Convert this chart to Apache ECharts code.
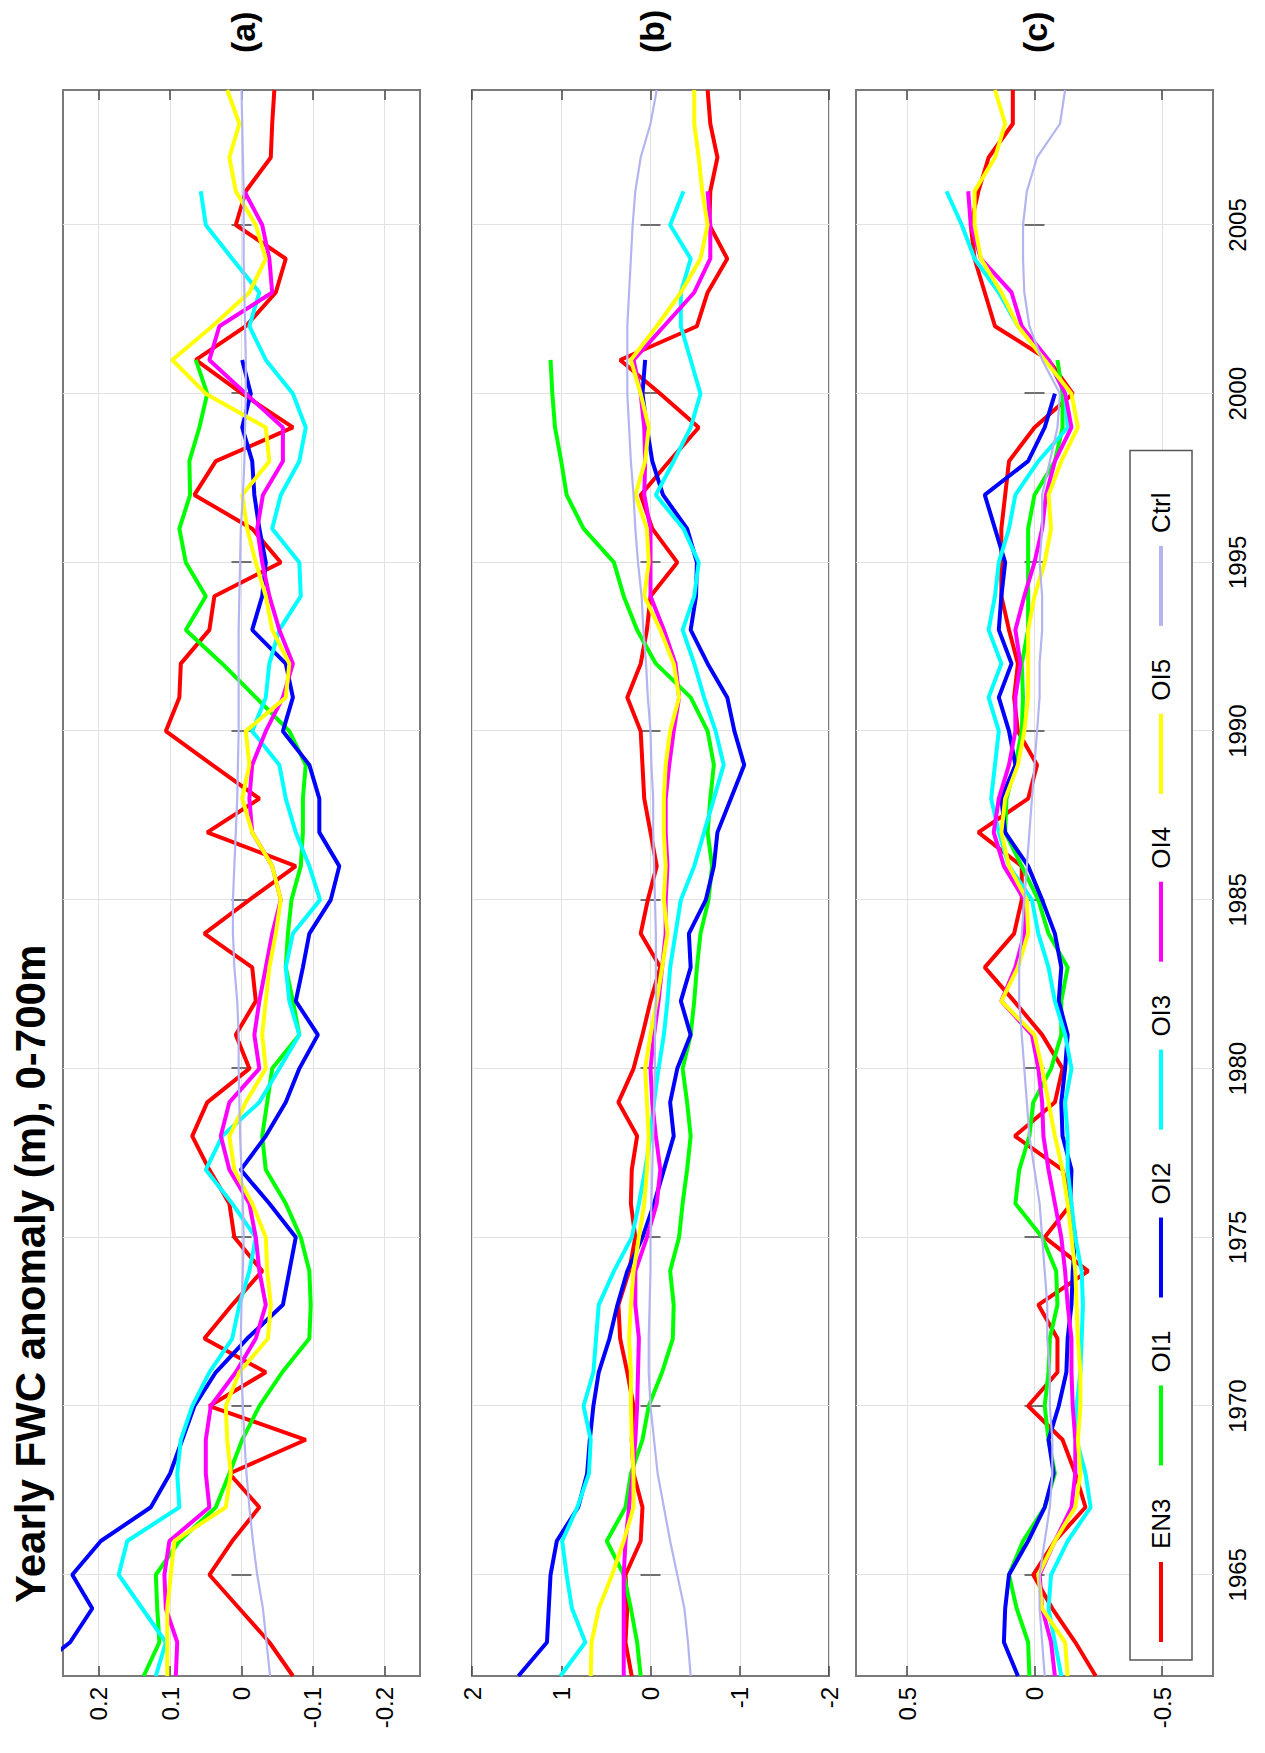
<!DOCTYPE html>
<html><head><meta charset="utf-8">
<script src="https://cdn.jsdelivr.net/npm/echarts@6/dist/echarts.min.js"></script>
<style>
html,body{margin:0;padding:0;background:#fff;width:1265px;height:1753px;overflow:hidden;}
#chart{position:absolute;left:0;top:0;width:1753px;height:1265px;transform-origin:0 0;transform:translate(0px,1753px) rotate(-90deg);}
</style></head><body><div id="chart"></div>
<script>
const years = [1962,1963,1964,1965,1966,1967,1968,1969,1970,1971,1972,1973,1974,1975,1976,1977,1978,1979,1980,1981,1982,1983,1984,1985,1986,1987,1988,1989,1990,1991,1992,1993,1994,1995,1996,1997,1998,1999,2000,2001,2002,2003,2004,2005,2006,2007,2008,2009];
const yearTicks = [1965,1970,1975,1980,1985,1990,1995,2000,2005];
const ticksA = [-0.2,-0.1,0,0.1,0.2];
const ticksB = [-2,-1,0,1,2];
const ticksC = [-0.5,0,0.5];
const names = ['EN3','OI1','OI2','OI3','OI4','OI5','Ctrl'];
const colors = ['#ff0000','#00ff00','#0000ff','#00ffff','#ff00ff','#ffff00','#b4b4f0'];

// Panel (a)
const a_EN3 = [-0.072,-0.039,0.003,0.045,0.013,-0.025,0.017,-0.090,0.045,-0.034,0.052,0.013,-0.029,0.010,0.017,0.045,0.069,0.048,-0.011,0.008,-0.020,-0.015,0.052,-0.011,-0.076,0.048,-0.025,0.041,0.106,0.087,0.085,0.045,0.038,-0.055,-0.015,0.066,0.036,-0.072,-0.001,0.064,-0.006,-0.048,-0.062,0.008,-0.006,-0.041,-0.043,-0.046];
const a_OI1 = [0.137,0.115,0.118,0.120,0.087,0.036,0.017,-0.001,-0.025,-0.057,-0.095,-0.097,-0.095,-0.083,-0.062,-0.034,-0.029,-0.036,-0.043,-0.081,-0.072,-0.062,-0.065,-0.070,-0.083,-0.086,-0.086,-0.090,-0.067,-0.020,0.027,0.078,0.050,0.078,0.087,0.072,0.073,0.059,0.048,0.064,null,null,null,null,null,null,null,null];
const a_OI2 = [0.30,0.24,0.209,0.237,0.197,0.127,0.100,0.083,0.066,0.036,-0.008,-0.058,-0.067,-0.076,-0.039,0.001,-0.034,-0.062,-0.081,-0.107,-0.076,-0.086,-0.095,-0.125,-0.137,-0.109,-0.109,-0.095,-0.058,-0.072,-0.062,-0.015,-0.029,-0.034,-0.025,-0.018,-0.015,-0.001,-0.013,-0.001,null,null,null,null,null,null,null,null];
const a_OI3 = [0.120,0.106,0.139,0.172,0.160,0.087,0.090,0.085,0.069,0.045,0.013,0.003,-0.011,-0.020,0.013,0.050,0.027,-0.025,-0.053,-0.081,-0.067,-0.062,-0.072,-0.110,-0.095,-0.076,-0.062,-0.053,-0.015,-0.034,-0.039,-0.053,-0.083,-0.081,-0.043,-0.055,-0.081,-0.090,-0.072,-0.034,-0.011,-0.025,0.013,0.050,0.057,null,null,null];
const a_OI4 = [0.092,0.090,0.106,0.108,0.101,0.045,0.050,0.050,0.043,0.008,-0.020,-0.034,-0.025,-0.020,-0.011,0.017,0.029,0.017,-0.025,-0.018,-0.025,-0.034,-0.043,-0.055,-0.043,-0.015,-0.011,-0.015,-0.034,-0.058,-0.072,-0.053,-0.039,-0.029,-0.022,-0.030,-0.058,-0.058,-0.006,0.045,0.031,-0.043,-0.039,-0.029,-0.004,null,null,null];
const a_OI5 = [0.104,0.104,0.104,0.099,0.094,0.022,0.015,0.020,0.022,0.003,-0.037,-0.041,-0.036,-0.034,-0.015,0.010,0.017,-0.006,-0.034,-0.029,-0.034,-0.039,-0.048,-0.055,-0.043,-0.015,-0.001,-0.011,-0.006,-0.062,-0.067,-0.043,-0.034,-0.020,-0.008,-0.001,-0.039,-0.034,0.050,0.097,0.041,-0.011,-0.034,-0.020,0.008,0.017,0.003,0.020];
const a_Ctrl = [-0.040,-0.035,-0.030,-0.022,-0.016,-0.011,-0.007,-0.004,-0.002,0.000,0.001,0.000,-0.002,-0.003,-0.002,0.000,0.002,0.003,0.004,0.004,0.006,0.010,0.012,0.012,0.010,0.008,0.006,0.005,0.004,0.004,0.004,0.004,0.003,0.002,0.001,-0.002,-0.004,-0.005,-0.006,-0.006,-0.005,-0.004,-0.003,-0.003,-0.003,-0.002,-0.001,0.000];

// Panel (b)
const b_EN3 = [0.21,0.28,0.26,0.28,0.11,0.09,0.19,0.21,0.19,0.26,0.34,0.36,0.24,0.17,0.22,0.21,0.15,0.36,0.19,0.09,0.00,-0.11,0.11,0.03,-0.07,0.00,0.07,0.09,0.11,0.26,0.11,0.04,0.00,-0.30,-0.02,0.11,-0.21,-0.54,-0.11,0.34,-0.52,-0.64,-0.86,-0.66,-0.67,-0.75,-0.67,-0.64];
const b_OI1 = [0.11,0.15,0.22,0.30,0.49,0.28,0.22,0.09,0.02,-0.13,-0.25,-0.26,-0.22,-0.32,-0.36,-0.41,-0.45,-0.41,-0.36,-0.45,-0.49,-0.52,-0.56,-0.65,-0.69,-0.64,-0.67,-0.71,-0.64,-0.45,-0.06,0.15,0.30,0.41,0.75,0.94,1.00,1.07,1.10,1.12,null,null,null,null,null,null,null,null];
const b_OI2 = [1.48,1.16,1.14,1.12,1.05,0.81,0.71,0.68,0.64,0.58,0.46,0.37,0.26,0.09,-0.04,-0.15,-0.26,-0.22,-0.30,-0.45,-0.34,-0.45,-0.43,-0.62,-0.71,-0.75,-0.90,-1.05,-0.94,-0.86,-0.64,-0.45,-0.51,-0.52,-0.41,-0.14,-0.02,0.04,0.09,0.06,null,null,null,null,null,null,null,null];
const b_OI3 = [1.01,0.73,0.88,0.94,0.99,0.82,0.69,0.67,0.75,0.64,0.61,0.58,0.41,0.21,0.13,0.06,0.00,-0.04,-0.09,-0.15,-0.19,-0.22,-0.28,-0.34,-0.49,-0.60,-0.71,-0.82,-0.73,-0.60,-0.49,-0.36,-0.49,-0.54,-0.37,-0.06,-0.26,-0.45,-0.56,-0.45,-0.34,-0.34,-0.45,-0.22,-0.37,null,null,null];
const b_OI4 = [0.30,0.30,0.30,0.30,0.28,0.24,0.20,0.17,0.15,0.14,0.13,0.17,0.17,0.04,-0.07,-0.11,-0.06,-0.02,0.00,-0.04,-0.09,-0.13,-0.17,-0.17,-0.19,-0.17,-0.17,-0.21,-0.26,-0.32,-0.28,-0.15,0.00,0.00,0.00,0.07,0.06,0.07,0.11,0.19,-0.15,-0.49,-0.67,-0.67,-0.64,null,null,null];
const b_OI5 = [0.67,0.66,0.58,0.43,0.30,0.19,0.19,0.21,0.22,0.22,0.24,0.22,0.19,0.13,0.07,0.04,0.02,0.04,0.06,0.00,-0.07,-0.13,-0.19,-0.15,-0.17,-0.15,-0.15,-0.17,-0.22,-0.32,-0.26,-0.11,0.07,0.02,0.04,0.17,0.06,0.02,0.11,0.22,-0.07,-0.34,-0.56,-0.64,-0.58,-0.54,-0.49,-0.49];
const b_Ctrl = [-0.45,-0.42,-0.38,-0.30,-0.22,-0.15,-0.08,-0.04,0.00,0.02,0.02,0.01,0.00,0.00,-0.01,-0.02,-0.03,-0.04,-0.05,-0.05,-0.06,-0.06,-0.06,-0.05,-0.04,-0.03,-0.03,-0.01,0.00,0.03,0.05,0.08,0.10,0.14,0.17,0.19,0.22,0.24,0.26,0.26,0.26,0.24,0.22,0.20,0.17,0.11,0.00,-0.07];

// Panel (c)
const c_EN3 = [-0.24,-0.16,-0.07,0.005,-0.08,-0.20,-0.16,-0.11,0.025,-0.09,-0.09,-0.015,-0.21,-0.04,-0.145,-0.11,0.077,-0.08,-0.11,-0.03,0.08,0.195,0.08,0.05,0.05,0.22,0.025,-0.01,0.065,0.08,0.065,0.10,0.13,0.13,0.13,0.115,0.10,0.00,-0.15,-0.055,0.155,0.195,0.235,0.25,0.22,0.18,0.085,0.085];
const c_OI1 = [0.02,0.025,0.07,0.10,0.045,-0.04,-0.08,-0.055,-0.04,-0.055,-0.06,-0.09,-0.085,-0.03,0.075,0.06,0.02,0.005,-0.065,-0.105,-0.105,-0.13,-0.055,-0.015,0.05,0.115,0.11,0.075,0.05,0.045,0.05,0.025,0.025,0.025,0.025,0.00,-0.08,-0.11,-0.11,-0.09,null,null,null,null,null,null,null,null];
const c_OI2 = [0.065,0.12,0.115,0.10,0.025,-0.04,-0.075,-0.055,-0.095,-0.125,-0.13,-0.145,-0.15,-0.16,-0.14,-0.145,-0.11,-0.105,-0.12,-0.13,-0.095,-0.105,-0.08,-0.03,0.025,0.115,0.13,0.075,0.10,0.14,0.09,0.14,0.13,0.115,0.155,0.195,0.025,-0.04,-0.08,null,null,null,null,null,null,null,null,null];
const c_OI3 = [-0.105,-0.08,-0.055,-0.065,-0.13,-0.22,-0.20,-0.165,-0.165,-0.18,-0.185,-0.19,-0.185,-0.16,-0.145,-0.13,-0.13,-0.12,-0.145,-0.12,-0.08,-0.055,-0.015,0.01,0.10,0.14,0.17,0.155,0.14,0.18,0.13,0.18,0.155,0.14,0.10,0.075,-0.015,-0.13,-0.12,-0.055,0.065,0.14,0.235,0.285,0.345,null,null,null];
const c_OI4 = [-0.08,-0.065,-0.03,-0.02,-0.08,-0.145,-0.16,-0.16,-0.15,-0.145,-0.145,-0.13,-0.12,-0.105,-0.08,-0.055,-0.035,-0.03,-0.015,0.01,0.13,0.075,0.04,0.04,0.12,0.16,0.14,0.10,0.075,0.075,0.055,0.075,0.04,0.00,-0.03,-0.045,-0.08,-0.145,-0.12,-0.055,0.05,0.09,0.21,0.25,0.26,null,null,null];
const c_OI5 = [-0.13,-0.12,-0.03,-0.015,-0.08,-0.16,-0.18,-0.17,-0.18,-0.18,-0.17,-0.165,-0.16,-0.145,-0.13,-0.11,-0.08,-0.055,-0.03,0.00,0.13,0.065,0.025,0.03,0.10,0.13,0.115,0.065,0.04,0.025,0.025,0.025,0.00,-0.04,-0.065,-0.055,-0.105,-0.17,-0.145,-0.04,0.065,0.13,0.21,0.235,0.235,0.155,0.115,0.155];
const c_Ctrl = [-0.04,-0.03,-0.02,-0.02,-0.04,-0.06,-0.07,-0.07,-0.06,-0.06,-0.05,-0.05,-0.04,-0.03,-0.02,0.00,0.02,0.03,0.04,0.05,0.06,0.06,0.05,0.04,0.03,0.02,0.01,0.00,-0.01,-0.02,-0.02,-0.03,-0.03,-0.02,-0.03,-0.03,-0.06,-0.09,-0.10,-0.03,0.02,0.04,0.045,0.045,0.03,-0.01,-0.10,-0.12];

const panels = [
  {label:'(a)', min:-0.25, max:0.25, ticks:ticksA, data:[a_EN3,a_OI1,a_OI2,a_OI3,a_OI4,a_OI5,a_Ctrl]},
  {label:'(b)', min:-2, max:2, ticks:ticksB, data:[b_EN3,b_OI1,b_OI2,b_OI3,b_OI4,b_OI5,b_Ctrl]},
  {label:'(c)', min:-0.7, max:0.7, ticks:ticksC, data:[c_EN3,c_OI1,c_OI2,c_OI3,c_OI4,c_OI5,c_Ctrl]}
];

const FONT = '"Liberation Sans", Arial, Helvetica, sans-serif';
const gridTops = [63, 472, 856];
const gridH = 357;
const tickStyle = {color:'#444', width:1.5};
const grids = [], xAxes = [], yAxes = [], series = [], titles = [];

titles.push({text:'Yearly FWC anomaly (m), 0-700m', left:150, top:9, padding:0,
  textStyle:{fontFamily:FONT, fontSize:42, fontWeight:'bold', color:'#000'}});

panels.forEach((p, i) => {
  grids.push({left:77, right:90, top:gridTops[i], height:gridH, show:true,
    borderColor:'#7a7a7a', borderWidth:2, backgroundColor:'#fff'});
  const xBase = {gridIndex:i, type:'value', min:1962, max:2009,
    axisLine:{show:false},
    axisTick:{show:true, inside:true, length:10, customValues:yearTicks, lineStyle:tickStyle}};
  xAxes.push(Object.assign({}, xBase, {position:'bottom',
    axisLabel:{show:i===2, customValues:yearTicks, formatter:(v)=>String(Math.round(v)),
      fontFamily:FONT, fontSize:24, color:'#000', margin:12},
    splitLine:{show:true, lineStyle:{color:'#e2e2e2', width:1}}}));
  xAxes.push(Object.assign({}, xBase, {position:'top', axisLabel:{show:false}, splitLine:{show:false}}));
  const yBase = {gridIndex:i, type:'value', min:p.min, max:p.max,
    axisLine:{show:false},
    axisTick:{show:true, inside:true, length:10, customValues:p.ticks, lineStyle:tickStyle}};
  yAxes.push(Object.assign({}, yBase, {position:'left',
    axisLabel:{show:true, customValues:p.ticks, fontFamily:FONT, fontSize:24, color:'#000', margin:11},
    splitLine:{show:true, lineStyle:{color:'#e2e2e2', width:1}}}));
  yAxes.push(Object.assign({}, yBase, {position:'right', axisLabel:{show:false}, splitLine:{show:false}}));

  titles.push({text:p.label, left:1700, top:[226,635,1018][i], padding:0,
    textStyle:{fontFamily:FONT, fontSize:34, fontWeight:'bold', color:'#000'}});

  p.data.forEach((arr, k) => {
    const pts = years.map((y, j) => [y, arr[j]]).filter(d => d[1] !== null);
    series.push({name:names[k], type:'line', xAxisIndex:2*i, yAxisIndex:2*i,
      data:pts, showSymbol:false, symbol:'none', clip:true, animation:false,
      color:colors[k], itemStyle:{color:colors[k]},
      lineStyle:{color:colors[k], width: names[k]==='Ctrl' ? 2.2 : 4}});
  });
});

const chart = echarts.init(document.getElementById('chart'), null, {renderer:'svg', width:1753, height:1265});
chart.setOption({
  animation:false,
  backgroundColor:'#fff',
  title:titles,
  grid:grids,
  xAxis:xAxes,
  yAxis:yAxes,
  legend:{data:names, left:93, top:1130, orient:'horizontal', icon:'rect', itemWidth:80, itemHeight:4,
    itemGap:33, padding:[18,42,18,18], backgroundColor:'#fff', borderColor:'#555', borderWidth:1.5,
    selectedMode:false, textStyle:{fontFamily:FONT, fontSize:26, color:'#000', padding:[0,0,0,8]}},
  series:series
});
</script></body></html>
